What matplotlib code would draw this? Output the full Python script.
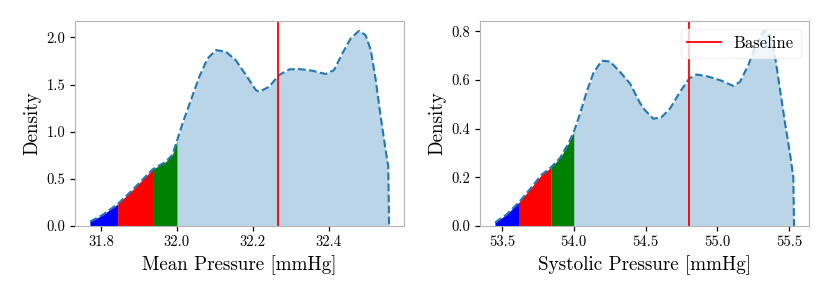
import numpy as np
import matplotlib
matplotlib.use("Agg")
import matplotlib.pyplot as plt

plt.rcParams['font.family'] = ['cmr10', 'DejaVu Serif']
plt.rcParams['mathtext.fontset'] = 'cm'
plt.rcParams['axes.formatter.use_mathtext'] = True

# ---- data: Mean pressure density ----
mean_x = [31.771, 31.804, 31.844, 31.883, 31.936, 31.971, 31.988, 32.0, 32.015, 32.037,
          32.059, 32.081, 32.103, 32.129, 32.155, 32.182, 32.208, 32.217, 32.243, 32.269,
          32.296, 32.322, 32.357, 32.392, 32.414, 32.436, 32.458, 32.480, 32.497, 32.511,
          32.524, 32.537, 32.550, 32.557, 32.559]
mean_y = [0.046, 0.117, 0.233, 0.382, 0.601, 0.682, 0.753, 0.900, 1.089, 1.336,
          1.583, 1.778, 1.866, 1.848, 1.760, 1.601, 1.442, 1.424, 1.477, 1.601,
          1.661, 1.665, 1.647, 1.612, 1.654, 1.831, 1.990, 2.071, 2.025, 1.866,
          1.548, 1.159, 0.806, 0.629, 0.01]
mean_bounds = [31.844, 31.936, 32.0]
mean_baseline = 32.267

# ---- data: Systolic pressure density ----
sys_x = [53.452, 53.534, 53.621, 53.696, 53.777, 53.842, 53.905, 53.962, 54.0, 54.044,
         54.090, 54.136, 54.195, 54.253, 54.322, 54.392, 54.461, 54.496, 54.554, 54.612,
         54.670, 54.740, 54.804, 54.856, 54.926, 55.018, 55.111, 55.157, 55.215, 55.273,
         55.324, 55.366, 55.401, 55.436, 55.471, 55.505, 55.528, 55.533]
sys_y = [0.014, 0.048, 0.099, 0.152, 0.211, 0.241, 0.280, 0.338, 0.386, 0.462,
         0.552, 0.628, 0.680, 0.676, 0.634, 0.586, 0.506, 0.476, 0.441, 0.448,
         0.483, 0.552, 0.607, 0.623, 0.616, 0.600, 0.576, 0.593, 0.662, 0.752,
         0.803, 0.786, 0.696, 0.559, 0.421, 0.297, 0.200, 0.0]
sys_bounds = [53.621, 53.842, 54.0]
sys_baseline = 54.8

xlabels = ["Mean Pressure [mmHg]", "Systolic Pressure [mmHg]"]
mean_xticks = ['31.8', '32.0', '32.2', '32.4']
mean_yticks = ['0.0', '0.5', '1.0', '1.5', '2.0']
sys_xticks = ['53.5', '54.0', '54.5', '55.0', '55.5']
sys_yticks = ['0.0', '0.2', '0.4', '0.6', '0.8']
region_colors = ["blue", "red", "green"]

fig = plt.figure(figsize=(8.3, 2.97), dpi=100)
W, H = 830, 297
ax1 = fig.add_axes([75 / W, (H - 226) / H, 329 / W, 205 / H])
ax2 = fig.add_axes([480 / W, (H - 226) / H, 329 / W, 205 / H])


def draw(ax, xs, ys, bounds, baseline, xlabel, xt, yt, legend=False):
    xs = np.array(xs)
    ys = np.array(ys)
    ax.fill_between(xs, 0, ys, color='C0', alpha=0.3, linewidth=0)
    lo = xs[0]
    for b, c in zip(bounds, region_colors):
        m = (xs >= lo) & (xs <= b)
        ax.fill_between(xs[m], 0, ys[m], color=c, linewidth=0)
        lo = b
    ax.plot(xs, ys, color='C0', linestyle='--', linewidth=1.5)
    ax.axvline(baseline, color='red', linewidth=1.3, label='Baseline')
    ax.set_ylim(bottom=0)
    ax.set_xticks([float(t) for t in xt])
    ax.set_xticklabels(xt)
    ax.set_yticks([float(t) for t in yt])
    ax.set_yticklabels(yt)
    ax.set_xlabel(xlabel, fontsize=13.7, labelpad=4.5)
    ax.set_ylabel('Density', fontsize=13.7)
    ax.tick_params(labelsize=10.5, length=3.5, width=0.9, color='black')
    for s in ax.spines.values():
        s.set_color('#b4b4b4')
    if legend:
        ax.legend(loc='upper right', fontsize=12, framealpha=0.8,
                  edgecolor='#eeeeee', fancybox=True)


draw(ax1, mean_x, mean_y, mean_bounds, mean_baseline, xlabels[0],
     mean_xticks, mean_yticks)
draw(ax2, sys_x, sys_y, sys_bounds, sys_baseline, xlabels[1],
     sys_xticks, sys_yticks, legend=True)

fig.savefig('out.png', dpi=100)
